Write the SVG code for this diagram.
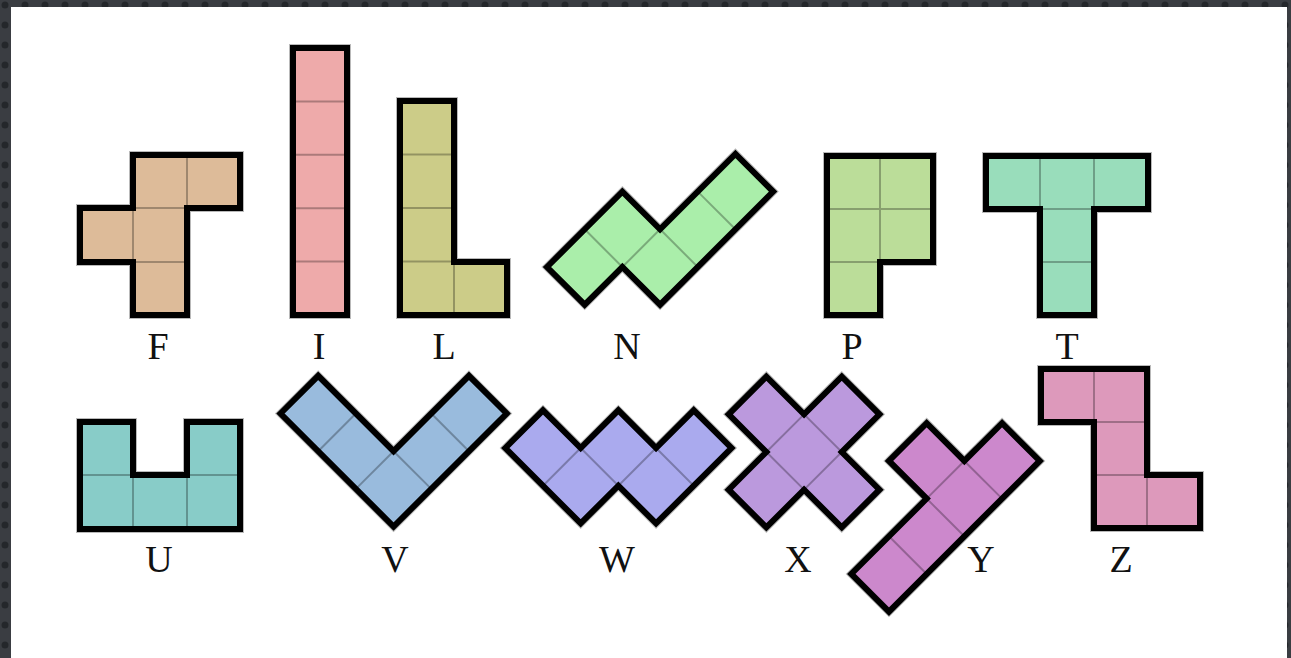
<svg xmlns="http://www.w3.org/2000/svg" width="1291" height="658" viewBox="0 0 1291 658">
<defs>
<pattern id="dots" x="0" y="0" width="20" height="20" patternUnits="userSpaceOnUse">
<rect width="20" height="20" fill="#3a3d42"/>
<circle cx="5" cy="5" r="3.5" fill="#24272b"/>
</pattern>
<style>
.o{stroke:#000;stroke-width:6;stroke-linejoin:miter;}
.h{fill:none;stroke:#8a8a8a;stroke-width:8;stroke-linejoin:miter;opacity:0.6;}
.g{fill:none;stroke:#000;stroke-opacity:0.28;stroke-width:2;}
.lbl{font-family:"Liberation Serif","Times New Roman",serif;font-size:38px;fill:#111;text-anchor:middle;}
</style>
</defs>
<rect x="0" y="0" width="1291" height="658" fill="url(#dots)"/>
<rect x="11" y="7" width="1276" height="651" fill="#ffffff"/>

<g id="F">
<path class="h" d="M133,155 H240 V208 H187 V315 H133 V262 H80 V208 H133 Z"/>
<path class="o" fill="#DDBB99" d="M133,155 H240 V208 H187 V315 H133 V262 H80 V208 H133 Z"/>
<path class="g" d="M187,155 V208 M133,208 H187 M133,208 V262 M133,262 H187"/>
<text class="lbl" x="158" y="359">F</text>
</g>

<g id="I">
<path class="h" d="M293,48 H347 V315 H293 Z"/>
<path class="o" fill="#EEAAAA" d="M293,48 H347 V315 H293 Z"/>
<path class="g" d="M293,101.4 H347 M293,154.8 H347 M293,208.2 H347 M293,261.6 H347"/>
<text class="lbl" x="319" y="359">I</text>
</g>

<g id="L">
<path class="h" d="M400,101 H454 V262 H507 V315 H400 Z"/>
<path class="o" fill="#CCCC88" d="M400,101 H454 V262 H507 V315 H400 Z"/>
<path class="g" d="M400,154.5 H454 M400,208 H454 M400,261.5 H454 M454,262 V315"/>
<text class="lbl" x="444" y="359">L</text>
</g>

<g id="N">
<g transform="translate(547,267) rotate(-45)">
<path class="h" d="M0,0 H106.6 V53.3 H213.2 V106.6 H53.3 V53.3 H0 Z"/>
<path class="o" fill="#AAEEAA" d="M0,0 H106.6 V53.3 H213.2 V106.6 H53.3 V53.3 H0 Z"/>
<path class="g" d="M53.3,0 V53.3 M53.3,53.3 H106.6 M106.6,53.3 V106.6 M159.9,53.3 V106.6"/>
</g>
<text class="lbl" x="627" y="359">N</text>
</g>

<g id="P">
<path class="h" d="M827,156 H933 V262 H880 V315 H827 Z"/>
<path class="o" fill="#BBDD99" d="M827,156 H933 V262 H880 V315 H827 Z"/>
<path class="g" d="M880,156 V262 M827,209 H933 M827,262 H880"/>
<text class="lbl" x="852" y="359">P</text>
</g>

<g id="T">
<path class="h" d="M986,156 H1148 V209 H1094 V315 H1040 V209 H986 Z"/>
<path class="o" fill="#99DDBB" d="M986,156 H1148 V209 H1094 V315 H1040 V209 H986 Z"/>
<path class="g" d="M1040,156 V209 M1094,156 V209 M1040,209 H1094 M1040,262 H1094"/>
<text class="lbl" x="1067" y="359">T</text>
</g>

<g id="U">
<path class="h" d="M80,422 H133 V475 H187 V422 H240 V529 H80 Z"/>
<path class="o" fill="#88CCC8" d="M80,422 H133 V475 H187 V422 H240 V529 H80 Z"/>
<path class="g" d="M80,475 H133 M187,475 H240 M133,475 V529 M187,475 V529"/>
<text class="lbl" x="159" y="572">U</text>
</g>

<g id="V">
<g transform="translate(280.5,413.5) rotate(-45)">
<path class="h" d="M0,0 H53.3 V106.6 H159.9 V159.9 H0 Z"/>
<path class="o" fill="#99BBDD" d="M0,0 H53.3 V106.6 H159.9 V159.9 H0 Z"/>
<path class="g" d="M0,53.3 H53.3 M0,106.6 H53.3 M53.3,106.6 V159.9 M106.6,106.6 V159.9"/>
</g>
<text class="lbl" x="395" y="572">V</text>
</g>

<g id="W">
<g transform="translate(505.3,448) rotate(-45)">
<path class="h" d="M0,0 H53.3 V53.3 H106.6 V106.6 H159.9 V159.9 H53.3 V106.6 H0 Z"/>
<path class="o" fill="#AAAAEE" d="M0,0 H53.3 V53.3 H106.6 V106.6 H159.9 V159.9 H53.3 V106.6 H0 Z"/>
<path class="g" d="M0,53.3 H53.3 M53.3,53.3 V106.6 M53.3,106.6 H106.6 M106.6,106.6 V159.9"/>
</g>
<text class="lbl" x="617" y="572">W</text>
</g>

<g id="X">
<g transform="translate(691,452) rotate(-45)">
<path class="h" d="M53.3,0 H106.6 V53.3 H159.9 V106.6 H106.6 V159.9 H53.3 V106.6 H0 V53.3 H53.3 Z"/>
<path class="o" fill="#BB99DD" d="M53.3,0 H106.6 V53.3 H159.9 V106.6 H106.6 V159.9 H53.3 V106.6 H0 V53.3 H53.3 Z"/>
<rect class="g" x="53.3" y="53.3" width="53.3" height="53.3"/>
</g>
<text class="lbl" x="798" y="572">X</text>
</g>

<g id="Y">
<g transform="translate(813.6,536.3) rotate(-45)">
<path class="h" d="M106.6,0 H159.9 V53.3 H213.2 V106.6 H0 V53.3 H106.6 Z"/>
<path class="o" fill="#CC88CC" d="M106.6,0 H159.9 V53.3 H213.2 V106.6 H0 V53.3 H106.6 Z"/>
<path class="g" d="M53.3,53.3 V106.6 M106.6,53.3 V106.6 M159.9,53.3 V106.6 M106.6,53.3 H159.9"/>
</g>
<text class="lbl" x="981" y="572">Y</text>
</g>

<g id="Z">
<path class="h" d="M1041,369 H1147 V475 H1200 V528 H1094 V422 H1041 Z"/>
<path class="o" fill="#DD99BB" d="M1041,369 H1147 V475 H1200 V528 H1094 V422 H1041 Z"/>
<path class="g" d="M1094,369 V422 M1094,422 H1147 M1094,475 H1147 M1147,475 V528"/>
<text class="lbl" x="1121" y="572">Z</text>
</g>
</svg>
